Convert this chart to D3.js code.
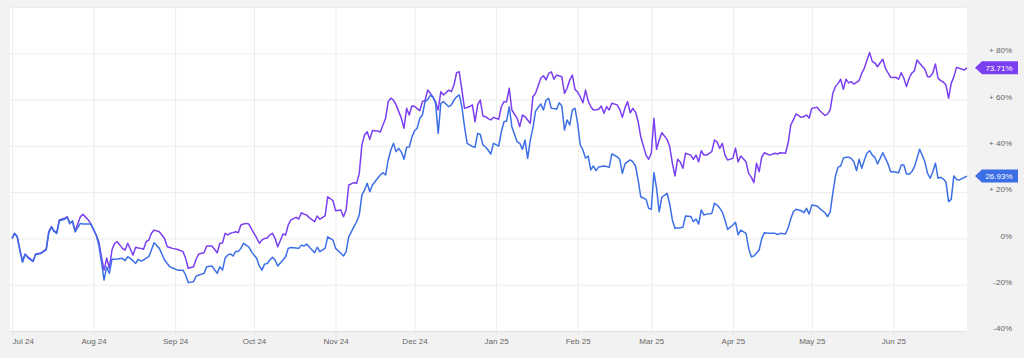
<!DOCTYPE html>
<html>
<head>
<meta charset="utf-8">
<script src="https://cdn.jsdelivr.net/npm/d3@7"></script>
<style>
  html, body { margin: 0; padding: 0; background: #f2f2f2; }
  svg { display: block; font-family: "Liberation Sans", Arial, Helvetica, sans-serif; }
</style>
</head>
<body>
<svg id="chart" width="1024" height="358"></svg>
<script>
// ---------- DATA ----------
const dates = [
"2024-07-01","2024-07-02","2024-07-03","2024-07-04","2024-07-05","2024-07-06","2024-07-07","2024-07-09","2024-07-10","2024-07-12",
"2024-07-14","2024-07-15","2024-07-16","2024-07-17","2024-07-18","2024-07-19","2024-07-21","2024-07-22","2024-07-23","2024-07-24",
"2024-07-25","2024-07-27","2024-07-28","2024-07-30","2024-07-31",
"2024-08-02","2024-08-03","2024-08-04","2024-08-05","2024-08-06","2024-08-07","2024-08-08","2024-08-09","2024-08-10","2024-08-12",
"2024-08-13","2024-08-14","2024-08-15","2024-08-16","2024-08-17","2024-08-18","2024-08-19","2024-08-20","2024-08-21","2024-08-22",
"2024-08-23","2024-08-24","2024-08-26","2024-08-28","2024-08-29","2024-08-30","2024-08-31",
"2024-09-02","2024-09-04","2024-09-05","2024-09-06","2024-09-08","2024-09-09","2024-09-10","2024-09-12","2024-09-13","2024-09-15",
"2024-09-17","2024-09-18","2024-09-19","2024-09-20","2024-09-21","2024-09-22","2024-09-23","2024-09-24","2024-09-25","2024-09-26",
"2024-09-27","2024-09-28","2024-09-29","2024-09-30",
"2024-10-01","2024-10-02","2024-10-03","2024-10-04","2024-10-05","2024-10-06","2024-10-07","2024-10-08","2024-10-09","2024-10-10",
"2024-10-12","2024-10-13","2024-10-14","2024-10-15","2024-10-17","2024-10-18","2024-10-19","2024-10-20","2024-10-21","2024-10-22",
"2024-10-24","2024-10-25","2024-10-26","2024-10-28","2024-10-29","2024-10-31",
"2024-11-01","2024-11-03","2024-11-04","2024-11-05","2024-11-06","2024-11-08","2024-11-09","2024-11-10","2024-11-11","2024-11-12",
"2024-11-13","2024-11-14","2024-11-15","2024-11-17","2024-11-18","2024-11-19","2024-11-20","2024-11-21","2024-11-22","2024-11-23",
"2024-11-24","2024-11-25","2024-11-26","2024-11-27","2024-11-28","2024-11-29","2024-11-30",
"2024-12-01","2024-12-02","2024-12-03","2024-12-04","2024-12-05","2024-12-06","2024-12-07","2024-12-08","2024-12-09","2024-12-10",
"2024-12-11","2024-12-12","2024-12-14","2024-12-15","2024-12-16","2024-12-17","2024-12-18","2024-12-19","2024-12-20","2024-12-21",
"2024-12-22","2024-12-23","2024-12-24","2024-12-25","2024-12-26","2024-12-27","2024-12-28","2024-12-29","2024-12-30","2024-12-31",
"2025-01-02","2025-01-03","2025-01-04","2025-01-05","2025-01-06","2025-01-07","2025-01-09","2025-01-10","2025-01-11","2025-01-12",
"2025-01-13","2025-01-14","2025-01-15","2025-01-16","2025-01-18","2025-01-19","2025-01-20","2025-01-21","2025-01-22","2025-01-23",
"2025-01-24","2025-01-25","2025-01-26","2025-01-27","2025-01-28","2025-01-29","2025-01-30","2025-01-31",
"2025-02-01","2025-02-02","2025-02-03","2025-02-04","2025-02-05","2025-02-06","2025-02-07","2025-02-08","2025-02-09","2025-02-10",
"2025-02-11","2025-02-12","2025-02-13","2025-02-14","2025-02-16","2025-02-17","2025-02-18","2025-02-19","2025-02-20","2025-02-21",
"2025-02-22","2025-02-23","2025-02-24","2025-02-25","2025-02-27","2025-02-28",
"2025-03-01","2025-03-02","2025-03-03","2025-03-04","2025-03-05","2025-03-07","2025-03-08","2025-03-09","2025-03-10","2025-03-11",
"2025-03-12","2025-03-13","2025-03-14","2025-03-16","2025-03-17","2025-03-18","2025-03-19","2025-03-20","2025-03-21","2025-03-22",
"2025-03-24","2025-03-25","2025-03-26","2025-03-27","2025-03-28","2025-03-29","2025-03-30",
"2025-04-01","2025-04-02","2025-04-03","2025-04-04","2025-04-06","2025-04-07","2025-04-08","2025-04-09","2025-04-10","2025-04-11",
"2025-04-12","2025-04-13","2025-04-14","2025-04-15","2025-04-17","2025-04-18","2025-04-19","2025-04-21","2025-04-22","2025-04-23",
"2025-04-24","2025-04-25","2025-04-27","2025-04-28","2025-04-29","2025-04-30",
"2025-05-01","2025-05-03","2025-05-04","2025-05-06","2025-05-07","2025-05-08","2025-05-09","2025-05-10","2025-05-11","2025-05-12",
"2025-05-13","2025-05-14","2025-05-15","2025-05-16","2025-05-17","2025-05-18","2025-05-19","2025-05-20","2025-05-21","2025-05-22",
"2025-05-23","2025-05-24","2025-05-25","2025-05-26","2025-05-27","2025-05-28","2025-05-29","2025-05-30","2025-05-31",
"2025-06-01","2025-06-02","2025-06-03","2025-06-04","2025-06-05","2025-06-06","2025-06-07","2025-06-08","2025-06-09","2025-06-10",
"2025-06-11","2025-06-13","2025-06-14","2025-06-15","2025-06-16","2025-06-17","2025-06-18","2025-06-19","2025-06-20","2025-06-21",
"2025-06-22","2025-06-23","2025-06-24","2025-06-25","2025-06-26","2025-06-28","2025-06-29"
];

// Purple series (% change)
const purpleValues = [
0.0,2.2,0.7,-5.0,-9.8,-6.7,-8.0,-9.8,-6.7,-6.3,
-4.6,2.9,5.1,3.3,2.5,8.0,8.7,9.4,6.7,7.2,
3.2,9.4,10.4,8.0,6.2,
1.5,-1.4,-7.9,-13.7,-8.5,-12.8,-5.0,-2.1,-1.4,-4.3,
-5.0,-2.1,-4.7,-7.2,-3.8,-4.1,-4.3,-4.7,-1.4,-0.7,
2.2,3.6,2.9,0.0,-3.6,-3.9,-4.3,
-4.8,-5.7,-8.6,-12.9,-12.2,-8.9,-6.7,-6.2,-3.3,-3.3,
-6.2,-2.1,-2.0,2.2,1.5,2.2,2.5,2.9,2.5,5.8,
6.2,6.5,6.2,4.1,
2.2,0.2,-2.1,-0.7,0.0,0.2,1.5,2.2,0.0,-3.6,
1.9,1.5,5.8,8.0,9.1,8.4,11.1,10.5,10.1,9.0,
7.2,9.7,8.3,9.7,18.0,16.3,
12.0,12.3,9.4,12.3,23.1,24.1,23.8,28.1,40.4,44.7,
46.1,42.8,46.6,46.4,46.0,49.0,51.9,59.1,60.6,59.8,
57.7,54.8,51.9,47.6,56.2,53.3,57.2,
57.1,56.1,55.2,59.1,59.6,64.1,62.7,61.1,59.0,55.5,
63.4,62.0,64.1,63.4,66.3,71.6,72.0,64.1,56.2,56.6,
57.0,57.7,50.4,57.7,59.8,52.9,52.6,51.8,51.2,52.3,
51.5,56.9,59.1,59.1,64.9,55.5,51.9,48.3,53.3,52.6,
51.2,49.7,61.2,62.7,69.2,70.3,68.5,71.3,72.0,68.8,
70.6,70.2,69.9,62.7,64.9,68.5,70.6,64.4,
63.3,61.1,58.6,64.1,59.5,56.9,55.5,55.6,55.8,57.2,
54.1,56.9,55.5,58.4,57.7,55.8,52.3,56.4,59.1,54.3,
56.2,54.6,50.5,43.8,36.0,34.2,
36.8,51.9,38.5,42.5,45.7,42.8,39.7,32.5,27.0,34.2,
33.0,30.3,36.8,36.0,34.2,36.0,33.1,37.9,36.0,36.0,
37.5,42.5,41.7,38.9,41.1,36.0,33.9,
34.6,39.0,33.1,35.6,33.1,28.1,26.5,24.1,32.5,28.8,
35.3,37.0,36.5,36.0,36.8,36.5,37.0,36.8,41.1,49.0,
51.2,53.8,52.3,52.7,53.3,52.0,
56.2,56.7,55.3,53.1,53.8,55.5,62.7,65.6,67.0,68.8,
64.4,68.8,67.2,67.7,66.7,67.4,68.2,71.4,73.6,77.1,
80.3,76.4,75.8,74.2,75.9,77.4,73.5,71.5,69.6,
69.5,69.6,68.8,71.6,69.2,65.6,69.2,71.4,72.4,77.1,
75.7,73.1,69.9,69.9,71.5,75.4,69.2,68.2,67.6,66.3,
60.6,67.0,69.8,73.9,73.5,72.8,73.71
];

// Blue series (% change)
const blueValues = [
0.0,2.2,0.7,-5.0,-10.3,-6.9,-8.3,-10.0,-6.9,-6.5,
-4.9,2.6,4.8,3.0,2.2,7.6,8.3,9.0,6.3,7.6,
2.8,6.5,6.2,6.2,6.2,
1.5,-2.9,-10.1,-18.0,-12.2,-15.1,-9.0,-9.0,-8.9,-8.6,
-9.6,-7.9,-8.7,-9.6,-10.8,-9.0,-9.8,-9.3,-8.5,-7.9,
-5.0,-1.9,-4.3,-9.3,-10.8,-12.2,-12.8,
-13.7,-13.7,-15.8,-19.1,-18.7,-16.3,-15.8,-15.1,-12.2,-11.9,
-15.1,-12.2,-13.7,-8.6,-7.2,-6.7,-7.6,-5.7,-5.7,-4.3,
-2.1,-2.9,-3.7,-5.7,
-7.2,-8.6,-11.9,-13.7,-11.1,-10.8,-9.3,-8.2,-9.3,-11.9,
-9.3,-7.9,-4.3,-3.9,-4.1,-4.3,-2.9,-3.3,-2.4,-3.7,
-6.2,-3.8,-5.7,-4.3,0.7,-0.7,
-4.3,-6.4,-7.6,-5.7,0.7,5.1,7.2,10.1,18.8,20.9,
23.8,20.2,23.1,26.0,27.4,28.4,27.4,33.9,38.2,41.1,
37.5,38.9,37.3,34.2,39.4,39.5,43.7,
46.5,47.6,51.9,53.3,59.1,60.0,61.8,61.1,58.4,45.4,
58.4,59.1,56.9,57.7,59.8,61.2,62.0,56.9,48.3,41.1,
40.4,39.7,39.4,45.4,44.9,40.4,39.5,38.1,36.4,41.1,
39.9,46.1,50.4,50.7,56.9,48.3,41.8,41.1,38.5,42.5,
34.6,42.5,47.7,55.0,58.1,55.5,59.8,60.5,56.2,56.1,
55.8,58.6,57.2,46.8,51.2,49.0,55.5,56.2,
49.7,40.4,38.2,34.7,35.6,29.6,31.3,29.3,30.9,31.1,
31.3,31.1,30.7,36.5,35.3,34.2,28.1,32.2,33.2,33.9,
33.1,31.3,25.2,18.0,16.9,13.0,
12.6,28.4,21.7,11.5,17.8,19.5,14.9,8.0,4.4,4.5,
4.6,4.8,9.7,9.5,7.2,8.4,6.2,12.3,10.1,10.5,
10.8,15.2,14.4,13.1,11.4,8.0,3.9,
5.8,7.0,1.5,3.6,2.2,-4.3,-7.9,-7.6,-6.3,-5.0,
0.0,2.5,2.3,2.2,2.2,1.7,2.2,1.9,4.5,8.4,
11.5,12.6,12.0,11.1,13.0,10.5,
14.4,14.0,13.0,11.1,9.4,11.5,19.6,27.0,30.8,31.3,
34.7,35.1,35.1,34.6,33.1,29.3,34.2,30.3,33.9,36.9,
37.9,36.0,35.0,32.2,34.6,37.0,34.6,32.2,28.8,
28.8,28.6,28.4,31.7,31.7,27.8,27.8,28.8,30.9,34.6,
38.5,33.1,28.1,26.0,28.8,32.5,26.0,26.4,25.7,24.4,
15.9,16.9,27.0,25.5,25.2,26.4,26.93
];

const yTickValues = [-40, -20, 0, 20, 40, 60, 80];
const yTickLabels = ["-40%", "-20%", "0%", "+ 20%", "+ 40%", "+ 60%", "+ 80%"];
const xTickDates = ["2024-07-01","2024-08-01","2024-09-01","2024-10-01","2024-11-01","2024-12-01",
                    "2025-01-01","2025-02-01","2025-03-01","2025-04-01","2025-05-01","2025-06-01"];
const xTickLabels = ["Jul 24","Aug 24","Sep 24","Oct 24","Nov 24","Dec 24",
                     "Jan 25","Feb 25","Mar 25","Apr 25","May 25","Jun 25"];
const endLabels = ["73.71%", "26.93%"];

// ---------- SETUP ----------
const parse = d3.timeParse("%Y-%m-%d");
const W = 1024, H = 358;
const plot = { left: 10, right: 967, top: 7, bottom: 331 };
const colors = { purple: "#7a3ff0", blue: "#3c6fe6" };

const svg = d3.select("#chart");

const x = d3.scaleTime()
  .domain([parse("2024-07-01"), parse("2025-06-29")])
  .range([12, 967]);
const y = d3.scaleLinear().domain([-40, 100]).range([plot.bottom, plot.top]);

const purpleData = dates.map((d, i) => ({ date: parse(d), v: purpleValues[i] }));
const blueData = dates.map((d, i) => ({ date: parse(d), v: blueValues[i] }));

// plot background
svg.append("rect")
  .attr("x", plot.left).attr("y", plot.top)
  .attr("width", plot.right - plot.left).attr("height", plot.bottom - plot.top)
  .attr("fill", "#ffffff");

// horizontal grid
const gridY = svg.append("g")
  .attr("transform", `translate(${plot.left},0)`)
  .call(d3.axisRight(y).tickValues([-20, 0, 20, 40, 60, 80, 100])
    .tickSize(plot.right - plot.left).tickFormat(""));
gridY.select(".domain").remove();
gridY.selectAll("line").attr("stroke", "#ececec").attr("stroke-width", 1);

// vertical grid
const xTicks = xTickDates.map(parse);
const gridX = svg.append("g")
  .attr("transform", `translate(0,${plot.bottom})`)
  .call(d3.axisBottom(x).tickValues(xTicks).tickSize(-(plot.bottom - plot.top)).tickFormat(""));
gridX.select(".domain").remove();
gridX.selectAll("line").attr("stroke", "#ececec").attr("stroke-width", 1);

// bottom axis with labels
const xAxis = svg.append("g")
  .attr("transform", `translate(0,${plot.bottom})`)
  .call(d3.axisBottom(x).tickValues(xTicks).tickSizeInner(4).tickSizeOuter(0).tickPadding(3)
    .tickFormat((d, i) => xTickLabels[i]));
xAxis.select(".domain")
  .attr("d", `M${plot.left},0.5H${plot.right}`)
  .attr("stroke", "#dde1ec");
xAxis.selectAll("line").attr("stroke", "#e6e8f0");
xAxis.selectAll("text")
  .attr("fill", "#666").attr("font-size", "8px")
  .attr("font-family", "Liberation Sans, Arial, sans-serif")
  .attr("text-anchor", (d, i) => i === 0 ? "start" : "middle");

// right y-axis labels
const yAxis = svg.append("g")
  .attr("transform", `translate(1012,0)`)
  .call(d3.axisRight(y).tickValues(yTickValues).tickSize(0).tickPadding(0)
    .tickFormat((d, i) => yTickLabels[i]));
yAxis.select(".domain").remove();
yAxis.selectAll("text")
  .attr("text-anchor", "end").attr("x", 0).attr("dy", "-0.05em")
  .attr("fill", "#666").attr("font-size", "8px")
  .attr("font-family", "Liberation Sans, Arial, sans-serif");

// lines
const line = d3.line().x(d => x(d.date)).y(d => y(d.v));
svg.append("path").datum(purpleData)
  .attr("fill", "none").attr("stroke", colors.purple)
  .attr("stroke-width", 1.5).attr("stroke-linejoin", "round").attr("d", line);
svg.append("path").datum(blueData)
  .attr("fill", "none").attr("stroke", colors.blue)
  .attr("stroke-width", 1.5).attr("stroke-linejoin", "round").attr("d", line);

// end tags
const tags = [
  { v: purpleValues[purpleValues.length - 1], label: endLabels[0], color: colors.purple },
  { v: blueValues[blueValues.length - 1], label: endLabels[1], color: colors.blue }
];
const tg = svg.selectAll("g.tag").data(tags).enter().append("g").attr("class", "tag")
  .attr("transform", d => `translate(0,${y(d.v)})`);
tg.append("path")
  .attr("d", "M975,0L982,-6.5H1018V6.5H982Z")
  .attr("fill", d => d.color);
tg.append("text")
  .attr("x", 999).attr("y", 0).attr("dy", "0.35em")
  .attr("text-anchor", "middle")
  .attr("fill", "#ffffff").attr("font-size", "8px")
  .attr("font-family", "Liberation Sans, Arial, sans-serif")
  .text(d => d.label);
</script>
</body>
</html>
